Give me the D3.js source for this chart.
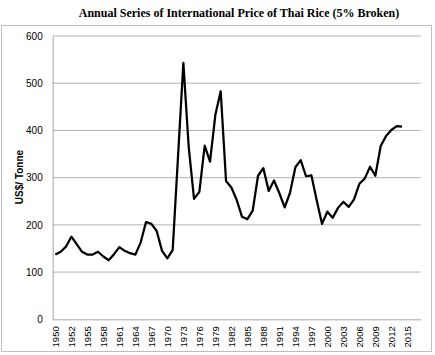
<!DOCTYPE html>
<html>
<head>
<meta charset="utf-8">
<title>Thai Rice Price</title>
<style>
  body { margin: 0; background: #fff; }
  svg { display: block; }
</style>
</head>
<body>
<script src="https://cdn.jsdelivr.net/npm/d3@7"></script>
<script>
// category slots on the x axis (69 slots, a label on every third one)
var categories = d3.range(69);
var tickLabels = ["1950", "1952", "1955", "1958", "1961", "1964", "1967", "1970", "1973", "1976", "1979", "1982",
                  "1985", "1988", "1991", "1994", "1997", "2000", "2003", "2006", "2009", "2012", "2015"];
// US$ per tonne, one per category slot from the first one
var prices = [137, 143, 154, 175, 159, 143, 137, 137, 143, 133, 125, 138, 153, 145, 140, 137,
              163, 206, 202, 187, 145, 129, 147, 345, 543, 365, 255, 270, 368, 334, 433, 483,
              293, 279, 253, 217, 212, 230, 304, 320, 272, 294, 267, 237, 268, 322, 337, 303,
              305, 252, 202, 228, 215, 236, 249, 238, 254, 287, 298, 323, 304, 367, 388, 401,
              409, 408];
var yTicks = [0, 100, 200, 300, 400, 500, 600];

var width = 435, height = 355;
var svg = d3.select("body").append("svg")
    .attr("width", width)
    .attr("height", height);

// frame around the chart
svg.append("rect")
    .attr("x", 1.5).attr("y", 25.5)
    .attr("width", 430).attr("height", 326)
    .attr("fill", "none")
    .attr("stroke", "#bfbfbf");

// title
svg.append("text")
    .attr("x", 239).attr("y", 17)
    .attr("text-anchor", "middle")
    .style("font-family", "'Liberation Serif', 'Times New Roman', serif")
    .style("font-weight", "bold")
    .style("font-size", "12px")
    .text("Annual Series of International Price of Thai Rice (5% Broken)");

var x = d3.scaleBand()
    .domain(categories)
    .range([52.7, 420.7])
    .padding(0);

var y = d3.scaleLinear()
    .domain([0, 600])
    .range([319.3, 36]);

// grid lines
svg.selectAll(".grid")
    .data(yTicks.slice(1))
    .enter()
    .append("line")
    .attr("class", "grid")
    .attr("x1", 52.7).attr("x2", 420.7)
    .attr("y1", function(d) { return y(d); })
    .attr("y2", function(d) { return y(d); })
    .attr("stroke", "#b3b3b3")
    .attr("stroke-width", 1);

// y axis
var yAxis = svg.append("g")
    .attr("transform", "translate(52.7,0)")
    .call(d3.axisLeft(y).tickValues(yTicks).tickSize(0).tickPadding(10));
yAxis.select(".domain").attr("stroke", "#a6a6a6");
yAxis.selectAll("text")
    .style("font-family", "'Liberation Sans', Arial, sans-serif")
    .style("font-size", "10px")
    .attr("fill", "#000");

// x axis
var xAxis = svg.append("g")
    .attr("transform", "translate(0,319.3)")
    .call(d3.axisBottom(x)
        .tickValues(categories.filter(function(d) { return d % 3 === 0; }))
        .tickFormat(function(d) { return tickLabels[d / 3]; })
        .tickSize(0));
xAxis.select(".domain").attr("stroke", "#a6a6a6");
xAxis.selectAll("text")
    .attr("transform", "rotate(-90)")
    .attr("text-anchor", "end")
    .attr("x", -7)
    .attr("y", 0)
    .attr("dy", "0.35em")
    .attr("fill", "#000")
    .style("font-family", "'Liberation Sans', Arial, sans-serif")
    .style("font-size", "9.5px");

// y axis title
svg.append("text")
    .attr("transform", "translate(23,177) rotate(-90)")
    .attr("text-anchor", "middle")
    .style("font-family", "'Liberation Sans', Arial, sans-serif")
    .style("font-weight", "bold")
    .style("font-size", "10px")
    .text("US$/ Tonne");

// the price line
var line = d3.line()
    .x(function(d, i) { return x(categories[i]) + x.bandwidth() / 2; })
    .y(function(d) { return y(d); });

svg.append("path")
    .datum(prices)
    .attr("d", line)
    .attr("fill", "none")
    .attr("stroke", "#000")
    .attr("stroke-width", 2.25)
    .attr("stroke-linejoin", "round");
</script>
</body>
</html>
